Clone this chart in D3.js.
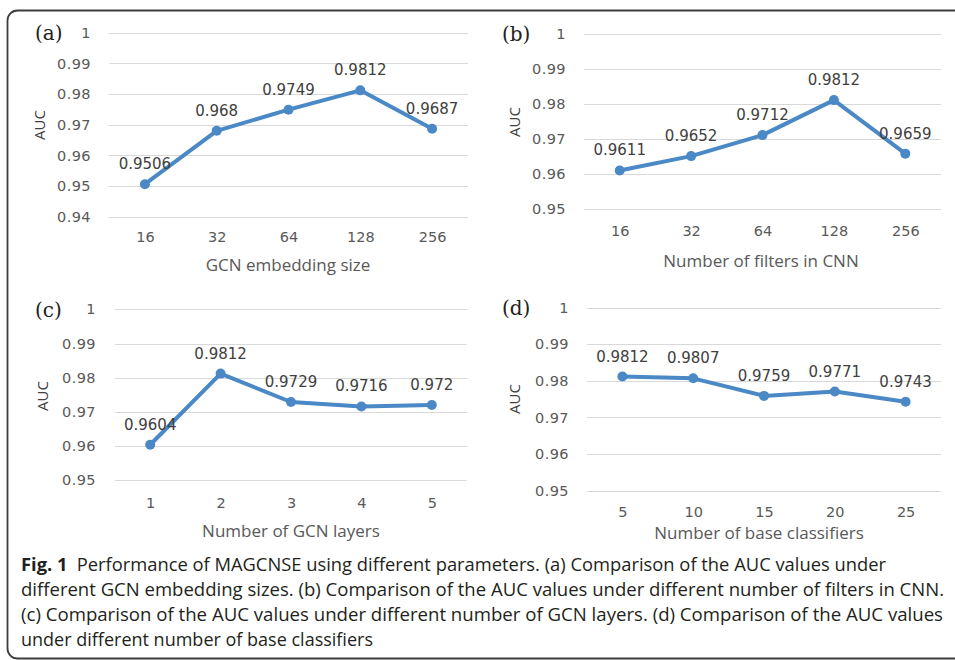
<!DOCTYPE html>
<html>
<head>
<meta charset="utf-8">
<script src="https://cdn.jsdelivr.net/npm/d3@7/dist/d3.min.js"></script>
<style>
  body { margin: 0; background: #fff; }
  svg { display: block; }
</style>
</head>
<body>
<div id="plot"></div>
<script>
'use strict';

// values
const embedSizes = ['16', '32', '64', '128', '256']
const embedAuc = [0.9506, 0.968, 0.9749, 0.9812, 0.9687]

const filterCounts = ['16', '32', '64', '128', '256']
const filterAuc = [0.9611, 0.9652, 0.9712, 0.9812, 0.9659]

const gcnLayers = ['1', '2', '3', '4', '5']
const layerAuc = [0.9604, 0.9812, 0.9729, 0.9716, 0.972]

const baseClassifiers = ['5', '10', '15', '20', '25']
const classifierAuc = [0.9812, 0.9807, 0.9759, 0.9771, 0.9743]

const ticksA = [0.94, 0.95, 0.96, 0.97, 0.98, 0.99, 1]
const ticksBCD = [0.95, 0.96, 0.97, 0.98, 0.99, 1]

const captionLines = [
  'Performance of MAGCNSE using different parameters. (a) Comparison of the AUC values under',
  'different GCN embedding sizes. (b) Comparison of the AUC values under different number of filters in CNN.',
  '(c) Comparison of the AUC values under different number of GCN layers. (d) Comparison of the AUC values',
  'under different number of base classifiers'
]

const blue = '#4a88c6'
const width = 955, height = 660

let svg = d3.select('#plot').append('svg')
  .attr('width', width)
  .attr('height', height)

svg.append('rect')
  .attr('x', 7.5)
  .attr('y', 10.5)
  .attr('width', 980)
  .attr('height', 648)
  .attr('rx', 10)
  .attr('fill', 'none')
  .attr('stroke', '#3c3c3c')
  .attr('stroke-width', 1.8)

let panels = [
  {tag: '(a)', cats: embedSizes, vals: embedAuc, ticks: ticksA, title: 'GCN embedding size',
   x0: 109, x1: 468, y0: 216.7, y1: 32.7, tickRight: 91, xLabY: 237, titleX: 288, titleY: 265,
   tagX: 35, tagY: 33, aucX: 40, aucY: 125},
  {tag: '(b)', cats: filterCounts, vals: filterAuc, ticks: ticksBCD, title: 'Number of filters in CNN',
   x0: 584, x1: 941, y0: 209.3, y1: 34.3, tickRight: 566, xLabY: 231, titleX: 761, titleY: 261,
   tagX: 502, tagY: 34, aucX: 515, aucY: 122},
  {tag: '(c)', cats: gcnLayers, vals: layerAuc, ticks: ticksBCD, title: 'Number of GCN layers',
   x0: 115, x1: 467, y0: 480.3, y1: 309.3, tickRight: 96, xLabY: 503, titleX: 291, titleY: 531,
   tagX: 35, tagY: 310, aucX: 43, aucY: 396},
  {tag: '(d)', cats: baseClassifiers, vals: classifierAuc, ticks: ticksBCD, title: 'Number of base classifiers',
   x0: 587, x1: 941, y0: 490.7, y1: 307.7, tickRight: 569, xLabY: 512, titleX: 759, titleY: 533,
   tagX: 502, tagY: 308, aucX: 515, aucY: 399}
]

panels.forEach(drawPanel)

function drawPanel(p) {
  let g = svg.append('g')
  let data = p.cats.map((c, i) => ({cat: c, val: p.vals[i]}))
  let x = d3.scalePoint()
    .domain(p.cats)
    .range([p.x0, p.x1])
    .padding(0.5)
  let y = d3.scaleLinear()
    .domain([d3.min(p.ticks), d3.max(p.ticks)])
    .range([p.y0, p.y1])

  // gridlines
  g.append('g')
    .selectAll('line')
    .data(p.ticks)
    .enter()
    .append('line')
    .attr('x1', p.x0)
    .attr('x2', p.x1)
    .attr('y1', d => Math.round(y(d)) + 0.5)
    .attr('y2', d => Math.round(y(d)) + 0.5)
    .attr('stroke', '#d9d9d9')
    .attr('stroke-width', 1.2)

  let yAxis = d3.axisLeft(y)
    .tickValues(p.ticks)
    .tickSize(0)
    .tickPadding(0)
    .tickFormat(d => String(d))
  let ya = g.append('g')
    .attr('transform', `translate(${p.tickRight}, 0)`)
    .call(yAxis)
  ya.select('.domain').remove()
  ya.selectAll('text')
    .attr('font-family', 'DejaVu Sans')
    .attr('font-size', '14.5px')
    .attr('letter-spacing', '0.4px')
    .attr('fill', '#595959')

  let xAxis = d3.axisBottom(x)
    .tickSize(0)
    .tickPadding(0)
  let xa = g.append('g')
    .attr('transform', `translate(0, ${p.xLabY})`)
    .call(xAxis)
  xa.select('.domain').remove()
  xa.selectAll('text')
    .attr('dy', '0.35em')
    .attr('font-family', 'DejaVu Sans')
    .attr('font-size', '14.5px')
    .attr('fill', '#595959')

  let line = d3.line()
    .x(d => x(d.cat))
    .y(d => y(d.val))
  g.append('path')
    .attr('d', line(data))
    .attr('fill', 'none')
    .attr('stroke', blue)
    .attr('stroke-width', 4)
    .attr('stroke-linejoin', 'round')

  g.append('g')
    .selectAll('circle')
    .data(data)
    .enter()
    .append('circle')
    .attr('cx', d => x(d.cat))
    .attr('cy', d => y(d.val))
    .attr('r', 5)
    .attr('fill', blue)

  g.append('g')
    .selectAll('text')
    .data(data)
    .enter()
    .append('text')
    .attr('x', d => x(d.cat))
    .attr('y', d => y(d.val) - 15)
    .attr('text-anchor', 'middle')
    .attr('font-family', 'DejaVu Sans')
    .attr('font-size', '15px')
    .attr('fill', '#404040')
    .text(d => String(d.val))

  g.append('text')
    .attr('x', p.titleX)
    .attr('y', p.titleY)
    .attr('dy', '0.35em')
    .attr('text-anchor', 'middle')
    .attr('font-family', 'Open Sans')
    .attr('font-size', '17px')
    .attr('fill', '#595959')
    .text(p.title)

  g.append('text')
    .attr('transform', `translate(${p.aucX}, ${p.aucY}) rotate(-90)`)
    .attr('dy', '0.35em')
    .attr('text-anchor', 'middle')
    .attr('font-family', 'Open Sans')
    .attr('font-size', '15px')
    .attr('fill', '#404040')
    .text('AUC')

  g.append('text')
    .attr('x', p.tagX)
    .attr('y', p.tagY)
    .attr('dy', '0.35em')
    .attr('font-family', 'DejaVu Serif')
    .attr('font-size', '20px')
    .attr('fill', '#222')
    .text(p.tag)
}

// caption
let capLengths = [865, 923, 922, 352]
let cap = svg.append('g')
  .attr('font-family', 'Open Sans')
  .attr('font-size', '18px')
  .attr('fill', '#231f20')
captionLines.forEach(function(t, i) {
  let el = cap.append('text')
    .attr('x', 21)
    .attr('y', 571 + i * 25)
    .attr('textLength', capLengths[i])
    .attr('lengthAdjust', 'spacingAndGlyphs')
  if (i == 0) {
    el.append('tspan').attr('font-weight', 'bold').text('Fig. 1')
    el.append('tspan').text('\u2002' + t)
  } else {
    el.text(t)
  }
})
</script>
</body>
</html>
